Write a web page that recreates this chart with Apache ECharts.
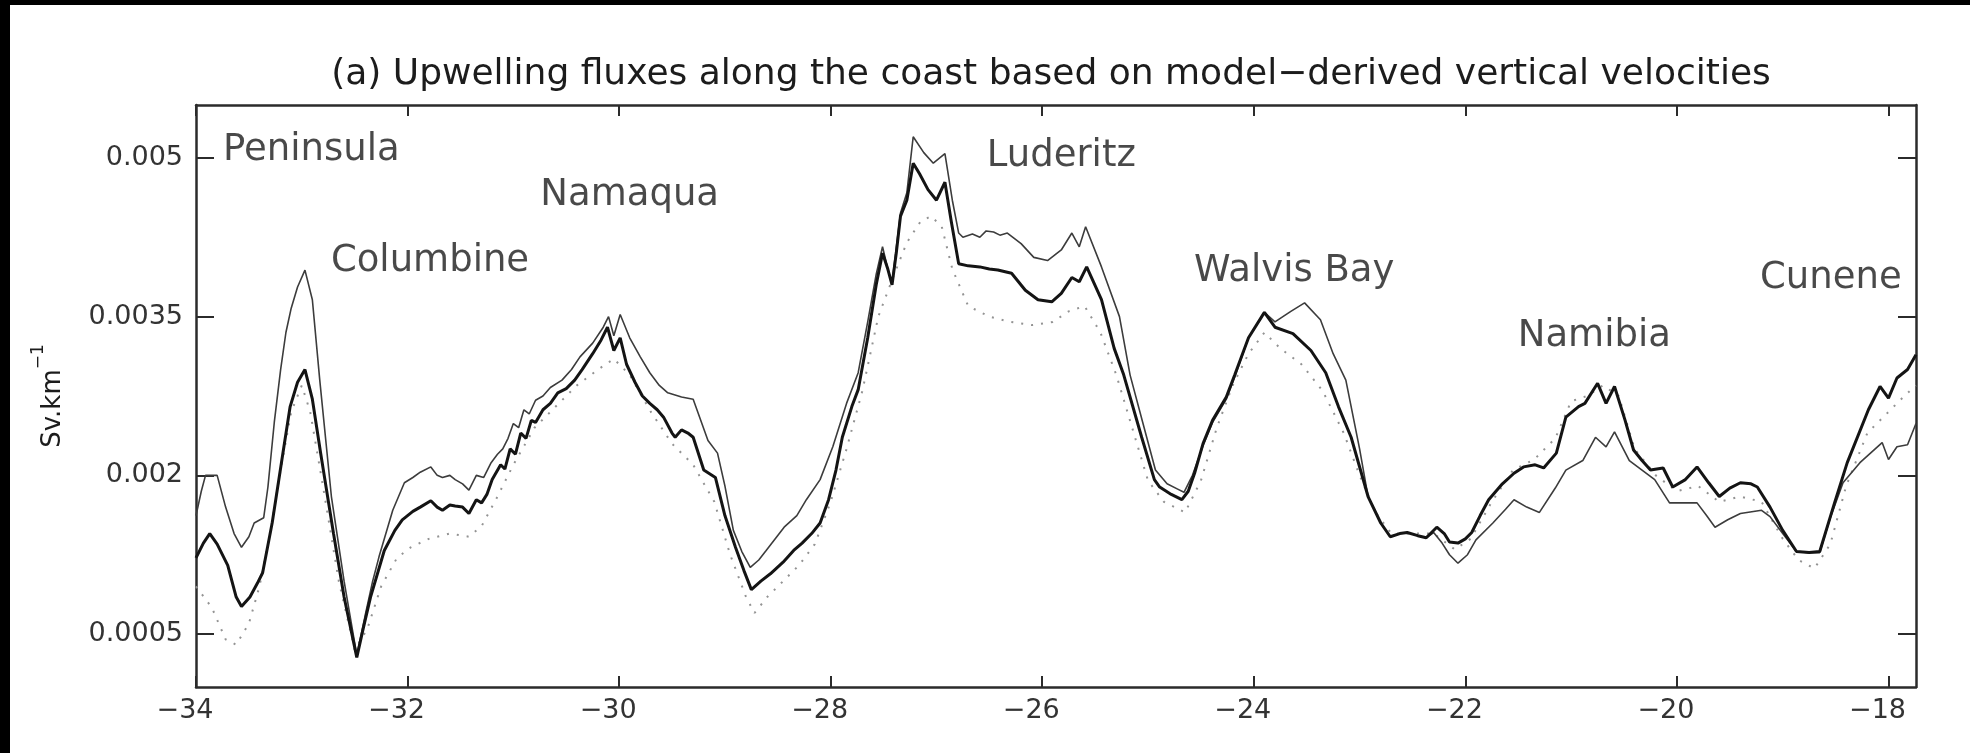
<!DOCTYPE html>
<html>
<head>
<meta charset="utf-8">
<title>Upwelling fluxes along the coast</title>
<script src="https://cdn.jsdelivr.net/npm/echarts@6/dist/echarts.min.js"></script>
<style>
  html, body { margin: 0; padding: 0; background: #fff; }
  #chart { position: absolute; left: 0; top: 0; width: 1970px; height: 753px; background: #fff; }
  .edge { position: absolute; background: #000; }
</style>
</head>
<body>
<div id="chart"></div>
<div class="edge" style="left:0;top:0;width:10px;height:753px"></div>
<div class="edge" style="left:0;top:0;width:1970px;height:5px"></div>
<script>
// Flux values below are in units of 1e-3 Sv per km of coastline.
const SCALE = 1e-3;

// Thick line
const thickLat = [-34.00,-33.93,-33.87,-33.80,-33.70,-33.62,-33.57,-33.49,-33.42,-33.37,-33.28,-33.18,-33.11,-33.04,-32.97,-32.90,-32.82,-32.70,-32.60,-32.48,-32.42,-32.35,-32.22,-32.12,-32.05,-31.95,-31.88,-31.78,-31.72,-31.67,-31.60,-31.55,-31.48,-31.42,-31.35,-31.30,-31.25,-31.20,-31.12,-31.08,-31.03,-30.98,-30.93,-30.88,-30.83,-30.79,-30.72,-30.65,-30.58,-30.50,-30.42,-30.35,-30.25,-30.17,-30.11,-30.05,-29.99,-29.93,-29.85,-29.78,-29.71,-29.64,-29.58,-29.50,-29.47,-29.41,-29.35,-29.30,-29.20,-29.09,-29.00,-28.90,-28.82,-28.75,-28.66,-28.57,-28.45,-28.35,-28.27,-28.18,-28.10,-28.02,-27.95,-27.89,-27.80,-27.74,-27.65,-27.57,-27.51,-27.46,-27.42,-27.38,-27.34,-27.28,-27.22,-27.16,-27.08,-27.00,-26.92,-26.86,-26.79,-26.70,-26.59,-26.50,-26.42,-26.29,-26.16,-26.04,-25.91,-25.82,-25.72,-25.65,-25.58,-25.44,-25.32,-25.23,-25.06,-24.94,-24.89,-24.78,-24.68,-24.62,-24.56,-24.48,-24.39,-24.26,-24.18,-24.05,-23.90,-23.80,-23.63,-23.46,-23.32,-23.20,-23.08,-22.92,-22.80,-22.71,-22.62,-22.55,-22.45,-22.37,-22.27,-22.20,-22.15,-22.07,-22.00,-21.94,-21.86,-21.78,-21.65,-21.54,-21.45,-21.34,-21.26,-21.14,-21.05,-20.93,-20.87,-20.75,-20.67,-20.59,-20.49,-20.41,-20.33,-20.25,-20.13,-20.04,-19.92,-19.81,-19.70,-19.60,-19.50,-19.40,-19.30,-19.24,-19.12,-19.00,-18.87,-18.75,-18.65,-18.51,-18.39,-18.19,-18.08,-18.00,-17.92,-17.82,-17.74];
const thickFlux = [1.22,1.36,1.45,1.35,1.15,0.85,0.76,0.85,0.98,1.08,1.55,2.20,2.65,2.88,3.00,2.72,2.20,1.45,0.85,0.28,0.55,0.85,1.29,1.48,1.58,1.66,1.70,1.76,1.70,1.67,1.72,1.71,1.70,1.64,1.77,1.74,1.82,1.96,2.10,2.06,2.25,2.20,2.40,2.35,2.52,2.50,2.62,2.68,2.78,2.82,2.90,3.00,3.15,3.28,3.40,3.18,3.30,3.05,2.88,2.75,2.68,2.62,2.55,2.40,2.36,2.43,2.40,2.36,2.05,1.98,1.62,1.32,1.10,0.92,1.00,1.07,1.18,1.29,1.36,1.45,1.55,1.77,2.05,2.36,2.65,2.81,3.30,3.80,4.10,3.95,3.80,4.10,4.45,4.60,4.95,4.85,4.70,4.60,4.77,4.40,4.00,3.98,3.97,3.95,3.94,3.91,3.75,3.66,3.64,3.72,3.87,3.83,3.97,3.66,3.20,2.95,2.36,1.96,1.89,1.82,1.77,1.85,2.02,2.30,2.52,2.74,2.95,3.30,3.54,3.40,3.34,3.18,2.97,2.65,2.36,1.80,1.55,1.42,1.45,1.46,1.43,1.41,1.51,1.45,1.37,1.36,1.40,1.46,1.62,1.77,1.92,2.02,2.08,2.10,2.07,2.21,2.55,2.65,2.68,2.87,2.68,2.84,2.52,2.24,2.14,2.05,2.07,1.89,1.96,2.08,1.93,1.80,1.88,1.93,1.92,1.89,1.70,1.48,1.28,1.27,1.28,1.74,2.12,2.62,2.84,2.73,2.92,3.00,3.14];

// Thin line
const thinLat = [-34.00,-33.95,-33.91,-33.80,-33.72,-33.64,-33.57,-33.50,-33.45,-33.36,-33.32,-33.26,-33.20,-33.15,-33.10,-33.04,-32.97,-32.90,-32.83,-32.72,-32.60,-32.48,-32.40,-32.33,-32.27,-32.14,-32.03,-31.95,-31.88,-31.78,-31.72,-31.67,-31.60,-31.55,-31.48,-31.42,-31.35,-31.28,-31.21,-31.15,-31.10,-31.05,-31.00,-30.95,-30.90,-30.85,-30.79,-30.72,-30.65,-30.54,-30.45,-30.37,-30.25,-30.15,-30.10,-30.05,-29.99,-29.90,-29.80,-29.71,-29.62,-29.54,-29.41,-29.30,-29.16,-29.07,-29.00,-28.92,-28.84,-28.76,-28.68,-28.61,-28.44,-28.32,-28.23,-28.10,-27.98,-27.85,-27.74,-27.65,-27.57,-27.51,-27.46,-27.42,-27.38,-27.34,-27.28,-27.22,-27.12,-27.03,-26.92,-26.85,-26.79,-26.75,-26.66,-26.59,-26.53,-26.46,-26.40,-26.33,-26.20,-26.08,-25.95,-25.82,-25.72,-25.65,-25.59,-25.44,-25.27,-25.17,-25.05,-24.93,-24.82,-24.72,-24.66,-24.58,-24.48,-24.39,-24.26,-24.18,-24.05,-23.90,-23.80,-23.65,-23.52,-23.37,-23.25,-23.13,-23.00,-22.92,-22.80,-22.71,-22.62,-22.55,-22.45,-22.37,-22.30,-22.22,-22.15,-22.07,-21.98,-21.90,-21.74,-21.62,-21.54,-21.42,-21.30,-21.15,-21.05,-20.89,-20.77,-20.67,-20.59,-20.45,-20.33,-20.21,-20.07,-19.92,-19.81,-19.72,-19.64,-19.52,-19.40,-19.20,-19.12,-19.00,-18.87,-18.75,-18.65,-18.55,-18.43,-18.27,-18.06,-18.00,-17.92,-17.82,-17.74];
const thinFlux = [1.62,1.85,2.00,2.00,1.70,1.45,1.32,1.42,1.55,1.60,1.89,2.50,3.00,3.35,3.58,3.78,3.94,3.66,2.90,1.80,1.00,0.30,0.68,1.00,1.23,1.67,1.93,1.98,2.03,2.08,2.00,1.98,2.00,1.96,1.92,1.86,2.00,1.98,2.12,2.20,2.25,2.35,2.49,2.45,2.62,2.58,2.71,2.75,2.83,2.90,3.00,3.12,3.25,3.40,3.50,3.32,3.52,3.30,3.12,2.97,2.85,2.78,2.74,2.72,2.33,2.21,1.90,1.48,1.28,1.13,1.20,1.29,1.51,1.62,1.77,1.96,2.27,2.68,2.97,3.45,3.90,4.16,3.95,3.82,4.15,4.48,4.67,5.20,5.05,4.95,5.04,4.60,4.29,4.25,4.28,4.25,4.31,4.30,4.27,4.29,4.19,4.06,4.03,4.13,4.29,4.16,4.35,3.97,3.50,2.95,2.50,2.05,1.92,1.87,1.84,2.00,2.28,2.50,2.72,2.93,3.30,3.54,3.45,3.55,3.63,3.47,3.15,2.90,2.25,1.80,1.55,1.42,1.45,1.46,1.43,1.41,1.46,1.36,1.25,1.17,1.25,1.39,1.55,1.68,1.77,1.70,1.65,1.88,2.05,2.14,2.36,2.27,2.41,2.14,2.05,1.96,1.74,1.74,1.74,1.62,1.51,1.58,1.64,1.67,1.61,1.45,1.28,1.27,1.27,1.60,1.93,2.12,2.31,2.15,2.27,2.29,2.49];

// Dotted line
const dotLat = [-34.00,-33.85,-33.72,-33.62,-33.50,-33.40,-33.30,-33.20,-33.10,-33.00,-32.92,-32.80,-32.65,-32.50,-32.38,-32.25,-32.10,-31.97,-31.80,-31.60,-31.42,-31.30,-31.15,-31.00,-30.80,-30.60,-30.40,-30.20,-30.05,-29.90,-29.70,-29.50,-29.30,-29.10,-28.95,-28.80,-28.72,-28.60,-28.45,-28.30,-28.15,-28.00,-27.85,-27.70,-27.55,-27.40,-27.28,-27.15,-27.05,-26.95,-26.85,-26.70,-26.50,-26.30,-26.10,-25.90,-25.75,-25.60,-25.45,-25.30,-25.15,-25.00,-24.85,-24.65,-24.50,-24.35,-24.20,-24.05,-23.90,-23.75,-23.55,-23.35,-23.15,-23.00,-22.85,-22.70,-22.50,-22.30,-22.10,-21.95,-21.75,-21.55,-21.35,-21.15,-21.00,-20.85,-20.70,-20.55,-20.40,-20.20,-20.00,-19.80,-19.60,-19.40,-19.20,-19.00,-18.85,-18.70,-18.55,-18.40,-18.20,-18.00,-17.85,-17.74];
const dotFlux = [0.95,0.75,0.45,0.40,0.60,0.95,1.45,2.05,2.60,2.85,2.60,1.90,1.00,0.35,0.55,0.95,1.22,1.32,1.40,1.45,1.42,1.52,1.80,2.10,2.45,2.65,2.85,3.00,3.10,2.95,2.60,2.30,2.10,1.75,1.25,0.85,0.70,0.85,1.00,1.15,1.35,1.75,2.25,2.80,3.50,3.90,4.20,4.40,4.45,4.35,3.95,3.60,3.50,3.45,3.42,3.45,3.55,3.60,3.35,2.95,2.45,1.95,1.75,1.65,1.95,2.45,2.85,3.15,3.35,3.20,3.05,2.80,2.40,2.00,1.65,1.45,1.45,1.45,1.30,1.40,1.75,2.05,2.15,2.35,2.70,2.75,2.85,2.75,2.25,2.00,1.85,1.90,1.75,1.80,1.75,1.40,1.20,1.12,1.35,1.90,2.40,2.60,2.75,2.85];

// Upwelling cells named along the coast (latitude, flux of the label anchor)
const regionNames = ['Peninsula', 'Columbine', 'Namaqua', 'Luderitz', 'Walvis Bay', 'Namibia', 'Cunene'];
const regionLat = [-33.74, -32.72, -30.74, -26.52, -24.56, -21.50, -19.21];
const regionFlux = [5.07, 4.02, 4.64, 5.01, 3.92, 3.31, 3.86];

// Axis ticks
const xTicks = [-34, -32, -30, -28, -26, -24, -22, -20, -18];
const yTicks = [0.0005, 0.002, 0.0035, 0.005];
const xMin = -34, xMax = -17.74;
const yMin = 0, yMax = 0.0055;

const pairs = (lat, flux) => lat.map((x, i) => [x, flux[i] * SCALE]);

const FONT = '"DejaVu Sans", "Liberation Sans", sans-serif';
const AXIS_COLOR = '#2b2b2b';
const TEXT_COLOR = '#1c1c1c';
const minus = v => String(v).replace('-', '\u2212');

const chart = echarts.init(document.getElementById('chart'), null, { renderer: 'canvas' });

const frameX = (position, showLabels) => ({
  type: 'value',
  position: position,
  min: xMin,
  max: xMax,
  axisLine: { show: true, onZero: false, lineStyle: { color: AXIS_COLOR, width: 2.5 } },
  axisTick: { show: true, inside: true, length: 11, customValues: xTicks, lineStyle: { color: AXIS_COLOR, width: 2 } },
  axisLabel: {
    show: showLabels,
    customValues: xTicks,
    formatter: minus,
    margin: 10,
    padding: [0, 22, 0, 0],
    color: '#333333',
    fontFamily: FONT,
    fontSize: 27
  },
  splitLine: { show: false }
});

const frameY = (position, showLabels) => ({
  type: 'value',
  position: position,
  min: yMin,
  max: yMax,
  axisLine: { show: true, onZero: false, lineStyle: { color: AXIS_COLOR, width: 2.5 } },
  axisTick: { show: true, inside: true, length: 18, customValues: yTicks, lineStyle: { color: AXIS_COLOR, width: 2 } },
  axisLabel: {
    show: showLabels,
    customValues: yTicks,
    formatter: v => String(v),
    margin: 13,
    color: '#333333',
    fontFamily: FONT,
    fontSize: 27
  },
  splitLine: { show: false }
});

const yLeft = frameY('left', true);
yLeft.name = '{a|Sv.km}{s|\u22121}';
yLeft.nameLocation = 'middle';
yLeft.nameGap = 130;
yLeft.nameRotate = 90;
yLeft.nameTextStyle = {
  color: TEXT_COLOR,
  fontFamily: FONT,
  rich: {
    a: { fontSize: 26, fontFamily: FONT, color: TEXT_COLOR, lineHeight: 36, verticalAlign: 'bottom' },
    s: { fontSize: 17, fontFamily: FONT, color: TEXT_COLOR, lineHeight: 36, verticalAlign: 'top' }
  }
};

chart.setOption({
  animation: false,
  backgroundColor: '#ffffff',
  title: {
    text: '(a) Upwelling fluxes along the coast based on model\u2212derived vertical velocities',
    left: 1046,
    top: 52,
    textAlign: 'center',
    textStyle: { fontFamily: FONT, fontSize: 36, fontWeight: 'normal', color: TEXT_COLOR, lineHeight: 36 }
  },
  grid: { left: 196, right: 54, top: 105, bottom: 66, containLabel: false },
  xAxis: [frameX('bottom', true), frameX('top', false)],
  yAxis: [yLeft, frameY('right', false)],
  series: [
    {
      name: 'dotted',
      type: 'line',
      data: pairs(dotLat, dotFlux),
      showSymbol: false,
      symbol: 'none',
      lineStyle: { color: '#939393', width: 2, type: [2, 8] },
      z: 2
    },
    {
      name: 'thin',
      type: 'line',
      data: pairs(thinLat, thinFlux),
      showSymbol: false,
      symbol: 'none',
      lineStyle: { color: '#3c3c3c', width: 1.6 },
      z: 3
    },
    {
      name: 'thick',
      type: 'line',
      data: pairs(thickLat, thickFlux),
      showSymbol: false,
      symbol: 'none',
      lineStyle: { color: '#141414', width: 3 },
      z: 4
    },
    {
      name: 'regions',
      type: 'scatter',
      symbolSize: 1,
      itemStyle: { color: 'rgba(0,0,0,0)' },
      data: regionNames.map((n, i) => ({ name: n, value: [regionLat[i], regionFlux[i] * SCALE] })),
      label: {
        show: true,
        position: [0, 0],
        align: 'left',
        verticalAlign: 'middle',
        formatter: '{b}',
        fontFamily: FONT,
        fontSize: 37,
        color: TEXT_COLOR
      },
      silent: true,
      z: 5
    }
  ]
});
</script>
</body>
</html>
